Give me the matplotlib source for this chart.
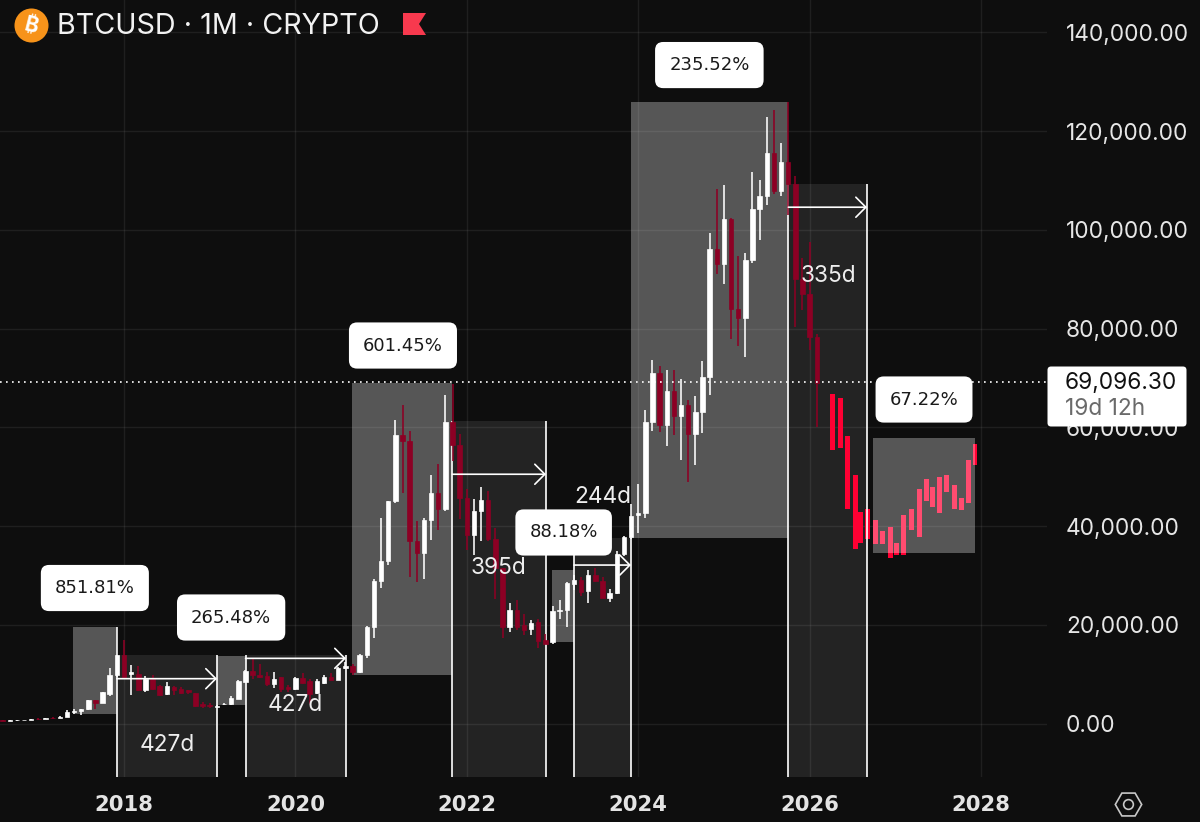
import numpy as np
import matplotlib
matplotlib.use("Agg")
import matplotlib.pyplot as plt
from matplotlib.lines import Line2D
from matplotlib.patches import FancyBboxPatch, Polygon

plt.rcParams['font.family'] = ['Inter', 'Noto Sans', 'Roboto', 'DejaVu Sans']

# monthly candles, first one is Aug 2016
opens = [620, 570, 610, 700, 745, 970, 960, 1190, 1080, 1350, 2400, 2480, 2870, 4700, 4200, 6000, 9760,
         13800, 9960, 10100, 6730, 9090, 7600, 6060, 7400, 7070, 6730, 6260, 4040, 3840, 3300, 3900, 3900, 5050, 8410,
         10570, 9890, 9620, 7940, 9420, 7400, 7000, 9290, 8550, 6190, 8280, 9420, 8880, 11240, 11710, 10430, 13800,
         19500, 28900, 33000, 45000, 58400, 57300, 37000, 34600, 41200, 46800, 43500, 61000, 56500, 45700, 38100, 43000,
         45200, 37300, 31600, 19600, 23000, 20000, 19100, 20500, 16900, 16500, 22800, 23000, 28300, 29000, 26900, 30100,
         28800, 25500, 26500, 34400, 37700, 42200, 42600, 61000, 71000, 60400, 67300, 62300, 64500, 58600, 63200, 70100,
         96200, 93000, 102200, 83900, 82100, 94000, 104300, 106900, 115500, 107900, 113800, 109300, 90000, 87100, 78300]
highs = [640, 660, 740, 780, 970, 1150, 1200, 1350, 1500, 2800, 2950, 2900, 4750, 4800, 6450, 11300, 19600,
         17000, 11800, 11600, 9560, 9900, 7740, 8410, 7540, 7400, 6730, 6260, 4310, 4170, 3700, 4100, 5590, 8880, 10770,
         13120, 12110, 10430, 10430, 9420, 7740, 9420, 10300, 9090, 9090, 9890, 10300, 11440, 12470, 12110, 14000, 19800,
         29200, 41700, 45100, 61400, 64500, 59200, 41000, 41700, 50300, 52500, 66600, 68700, 58700, 47600, 45500, 48000,
         47100, 39700, 31600, 24400, 25000, 22200, 21000, 21100, 18100, 23800, 25000, 28700, 30000, 29600, 31000, 31500,
         29700, 27200, 35000, 38000, 44400, 48600, 63600, 73600, 72400, 71700, 71700, 69700, 65500, 66300, 73500, 99400,
         108200, 109100, 102500, 94700, 95400, 111800, 110200, 122900, 124200, 117700, 126000, 110900, 94300, 97600, 79000]
lows = [480, 560, 600, 690, 740, 750, 930, 890, 1060, 1350, 2000, 1800, 2800, 2900, 4100, 5500, 9500,
        9100, 5700, 6600, 6330, 6860, 5520, 5850, 5720, 6060, 6060, 3400, 3100, 3230, 3300, 3800, 3840, 5050, 8340,
        8950, 9290, 7600, 7200, 6390, 6390, 6860, 8080, 3900, 6060, 8080, 8750, 8750, 11000, 9760, 10200, 13300,
        17400, 27500, 32100, 44700, 46700, 29600, 28600, 29200, 37100, 39300, 43000, 53200, 41400, 35100, 34200, 37000,
        37000, 25200, 17400, 18600, 19000, 18000, 18000, 15300, 16100, 16200, 21100, 19500, 27000, 25900, 24500, 28700,
        25400, 24700, 26300, 34000, 37300, 38500, 41600, 59300, 59000, 56300, 58400, 53300, 48900, 52400, 58900, 66600,
        91100, 89100, 78000, 76500, 74300, 93300, 98000, 105000, 107200, 106900, 103000, 80300, 83700, 75600, 60000]
closes = [570, 610, 700, 745, 960, 960, 1190, 1080, 1350, 2400, 2480, 2870, 4700, 4200, 6400, 9760, 13800,
          9420, 10430, 6730, 9090, 7070, 5850, 7540, 6730, 6190, 6390, 3570, 3630, 3570, 3600, 4040, 5250, 8610, 10570,
          9760, 9420, 7940, 9090, 7070, 7070, 9290, 8210, 6060, 8550, 9420, 8880, 11240, 11580, 10430, 13800, 19500,
          28900, 32900, 45000, 58400, 57300, 37000, 34600, 41200, 46800, 43500, 61000, 56500, 45700, 38100, 43000, 45200,
          37300, 31600, 19600, 23000, 19600, 19000, 20300, 16800, 16200, 22800, 23000, 28400, 29000, 26700, 30100, 28800,
          25500, 26500, 34400, 37700, 42000, 42600, 61000, 71000, 60400, 67300, 62300, 64500, 58600, 63200, 70100, 96200,
          93000, 102200, 83900, 82100, 94000, 104300, 106900, 115500, 107900, 113800, 109300, 90000, 87100, 78300, 68900]

# the pasted projection, no wicks
proj_years = [2026.265, 2026.355, 2026.445, 2026.53, 2026.59, 2026.68, 2026.77, 2026.85, 2026.94, 2027.01, 2027.10,
              2027.19, 2027.28, 2027.36, 2027.43, 2027.51, 2027.60, 2027.69, 2027.77, 2027.85, 2027.93]
proj_top = [66700, 65900, 58300, 50300, 42900, 43400, 41200, 39100, 39900, 36500, 42200,
            43400, 47500, 49500, 48000, 49900, 50300, 48400, 45700, 53400, 56700]
proj_bottom = [55400, 55800, 43500, 35400, 36600, 37400, 36300, 36300, 33500, 34200, 34200,
               39300, 37800, 45000, 43900, 42700, 47000, 43500, 43200, 44700, 52400]

# start, end, top, bottom of the price range boxes
range_boxes = [(2017.408, 2017.918, 19650, 2000), (2019.085, 2019.418, 13600, 3700), (2020.657, 2021.83, 69000, 9800),
               (2022.99, 2023.251, 31000, 16450), (2023.916, 2025.752, 126000, 37600), (2026.743, 2027.93, 57800, 34500)]
# start, end, top, price of the arrow
date_boxes = [(2017.918, 2019.085, 13900, 9080), (2019.418, 2020.59, 13900, 13200), (2021.83, 2022.924, 61300, 50500),
              (2023.251, 2023.916, 37600, 32100), (2025.752, 2026.67, 109400, 104600)]

pct_labels = ["851.81%", "265.48%", "601.45%", "88.18%", "235.52%", "67.22%"]
pct_x = [2017.66, 2019.25, 2021.255, 2023.13, 2024.83, 2027.335]
pct_y = [27450, 21475, 76580, 38700, 133400, 65640]
day_labels = ["427d", "427d", "395d", "244d", "335d"]
day_x = [2018.50, 2019.995, 2022.365, 2023.59, 2026.215]
day_y = [-4355, 3750, 31500, 45900, 90660]

price_ticks = [0, 20000, 40000, 60000, 80000, 100000, 120000, 140000]
year_ticks = [2018, 2020, 2022, 2024, 2026, 2028]
last_price = 69096.30

bg = "#0e0e0e"
red = "#8c0024"
bright = "#ff0033"

fig = plt.figure(figsize=(12, 8.22), dpi=100, facecolor=bg)
ax = fig.add_axes([0, 1 - 776.5 / 822, 1047 / 1200, 776.5 / 822], facecolor=bg)
ax.set_xlim(2016.553, 2028.77)
ax.set_ylim(-10737, 146580)
for s in ax.spines.values():
    s.set_visible(False)

ax.set_xticks(year_ticks)
ax.set_xticklabels([str(y) for y in year_ticks], fontsize=15.2, fontweight="bold", family=["DejaVu Sans"], color="#e4e4e4")
ax.set_yticks(price_ticks)
ax.set_yticklabels(["{:,.2f}".format(p) for p in price_ticks], fontsize=16.3, color="#e6e6e6", ha="left")
ax.yaxis.tick_right()
ax.tick_params(axis='x', length=0, pad=13)
ax.tick_params(axis='y', length=0, pad=13.5)
ax.grid(True, color="white", alpha=0.07, lw=1)
ax.set_axisbelow(True)

# boxes
for x0, x1, top, arrow_y in date_boxes:
    ax.bar(x0, top + 10737, bottom=-10737, width=x1 - x0, align="edge", color="white", alpha=0.09, lw=0, zorder=1)
    ax.vlines([x0, x1], -10737, top, color="white", lw=1.2, zorder=4)
    ax.annotate("", xy=(x1, arrow_y), xytext=(x0, arrow_y), zorder=6,
                arrowprops=dict(arrowstyle="->,head_length=0.72,head_width=0.72", color="white", lw=1.2,
                                mutation_scale=10, shrinkA=0, shrinkB=0))

ax.bar(proj_years, np.array(proj_top) - np.array(proj_bottom), bottom=proj_bottom, width=0.058, color=bright, lw=0, zorder=2)

for x0, x1, top, bottom in range_boxes:
    ax.bar(x0, top - bottom, bottom=bottom, width=x1 - x0, align="edge", color="white", alpha=0.3, lw=0, zorder=3)

# candles
months = 2018 + (np.arange(len(opens)) - 17) / 12
opens = np.array(opens)
closes = np.array(closes)
colors = ["white" if c >= o else red for o, c in zip(opens, closes)]
ax.vlines(months, lows, highs, colors=colors, lw=1.15, zorder=5)
ax.bar(months, np.abs(closes - opens), bottom=np.minimum(opens, closes), width=0.052,
       color=colors, edgecolor=colors, lw=0.5, zorder=5)

ax.axhline(last_price, color="white", lw=1.2, ls=(0, (1, 2.6)), zorder=5.5)

for t, x, y in zip(day_labels, day_x, day_y):
    ax.text(x, y, t, fontsize=16.3, color="#eeeeee", ha="center", va="center", zorder=7)
for t, x, y in zip(pct_labels, pct_x, pct_y):
    ax.text(x, y, t, fontsize=13, family=["DejaVu Sans"], color="#1a1a1a", ha="center", va="center", zorder=8,
            bbox=dict(boxstyle="round,pad=0.78,rounding_size=0.45", fc="white", ec="none"))

# last price tag, on top of the 60,000 label
tag = FancyBboxPatch((1047.5 / 1200, 1 - 426.5 / 822), 139 / 1200, 60 / 822, transform=fig.transFigure,
                     boxstyle="round,pad=0,rounding_size=0.003", mutation_aspect=1200 / 822, fc="white", ec="none", zorder=10)
fig.add_artist(tag)
fig.text(1065 / 1200, 1 - 383 / 822, "{:,.2f}".format(last_price), fontsize=16.3, color="#111111", va="center", zorder=11)
fig.text(1065 / 1200, 1 - 409 / 822, "19d 12h", fontsize=16.3, color="#6a6a6a", va="center", zorder=11)

# header
fig.add_artist(Line2D([31 / 1200], [1 - 25 / 822], marker="o", ms=24.5, mfc="#f7931a", mec="none", transform=fig.transFigure, zorder=10))
fig.text(31 / 1200, 1 - 25.5 / 822, "\u20bf", fontsize=15, fontweight="bold", color="white",
         rotation=-14, ha="center", va="center", zorder=11)
fig.text(57 / 1200, 1 - 27 / 822, "BTCUSD \u00b7 1M \u00b7 CRYPTO", fontsize=20.7, color="#f2f2f2", va="center", zorder=11)
flag = np.array([(403, 13), (426, 13), (419, 24), (426, 35), (403, 35)], dtype=float)
flag[:, 0] /= 1200
flag[:, 1] = 1 - flag[:, 1] / 822
fig.add_artist(Polygon(flag, closed=True, fc="#f8394e", ec="none", transform=fig.transFigure, zorder=10))

# settings icon
fig.add_artist(Line2D([1128 / 1200], [1 - 804 / 822], marker="H", ms=19, mfc="none", mec="#c8c8c8", mew=1.2, transform=fig.transFigure))
fig.add_artist(Line2D([1128 / 1200], [1 - 804 / 822], marker="o", ms=7, mfc="none", mec="#c8c8c8", mew=1.2, transform=fig.transFigure))

plt.savefig("out.png", dpi=100, facecolor=bg)
